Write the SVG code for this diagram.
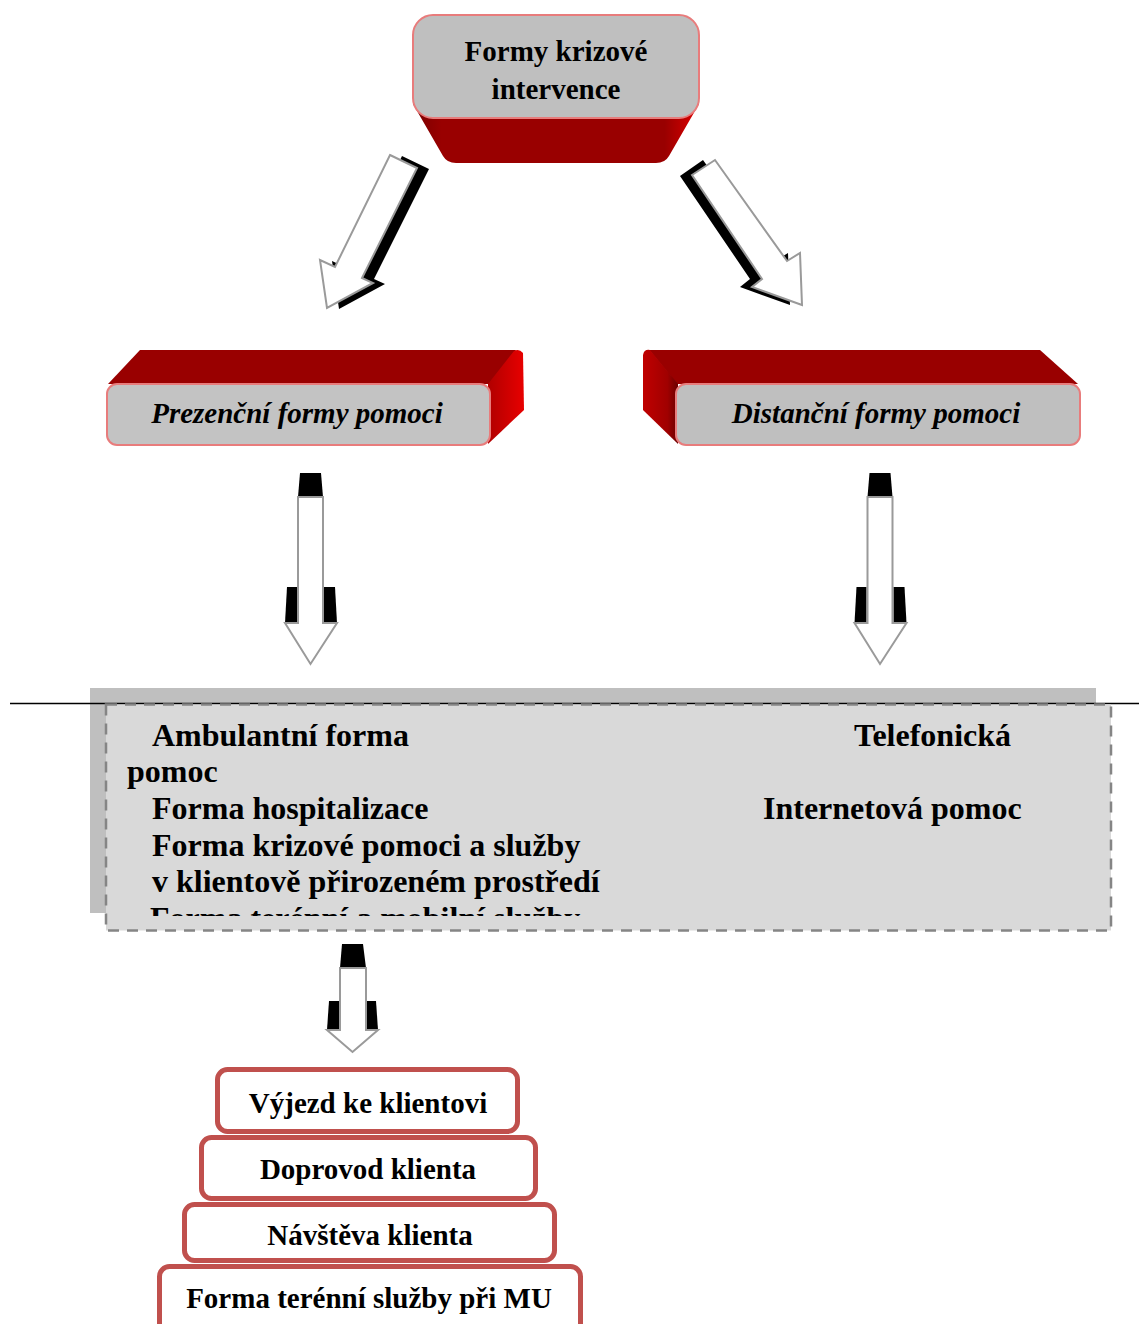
<svg xmlns="http://www.w3.org/2000/svg" width="1139" height="1324" viewBox="0 0 1139 1324">
<style>
text{font-family:"Liberation Serif","Times New Roman",serif;font-weight:bold;fill:#000}
.t29{font-size:29px}
.t32{font-size:32px}
.it{font-style:italic}
.face{fill:#bfbfbf;stroke:#e87c7c;stroke-width:2}
.wa{fill:#fff;stroke:#9a9a9a;stroke-width:2;stroke-linejoin:miter}
.sh{fill:#000}
.stack{fill:#fff;stroke:#c0504d;stroke-width:5}
</style>
<defs>
<linearGradient id="redH" x1="0" y1="0" x2="1" y2="0">
<stop offset="0" stop-color="#7a0000"/>
<stop offset="0.1" stop-color="#990000"/>
<stop offset="0.88" stop-color="#990000"/>
<stop offset="1" stop-color="#e00000"/>
</linearGradient>
<linearGradient id="redR" x1="0" y1="0" x2="1" y2="0">
<stop offset="0" stop-color="#b00000"/>
<stop offset="1" stop-color="#e80000"/>
</linearGradient>
<linearGradient id="redL" x1="0" y1="0" x2="1" y2="0">
<stop offset="0" stop-color="#c00000"/>
<stop offset="0.7" stop-color="#a00000"/>
<stop offset="1" stop-color="#6a0000"/>
</linearGradient>
<g id="downArrow">
<polygon class="sh" points="300,473 321,473 323,497 298,497"/>
<polygon class="sh" points="287,587 297,587 297,623 285,623"/>
<polygon class="sh" points="324,587 335,587 337,623 324,623"/>
<polygon class="wa" points="298,497 323,497 323,623 337,623 310.5,664 285,623 298,623"/>
</g>
<clipPath id="boxClip"><rect x="90" y="688" width="1030" height="228"/></clipPath>
</defs>

<g id="connectors">
<g id="arrow-left-diag">
<polygon class="sh" points="402,156 429,169 374,279 385,284 339,309 332,261 347,268"/>
<polygon class="wa" points="390,155 417,168 362,278 373,283 327,308 320,260 335,267"/>
</g>
<g id="arrow-right-diag">
<polygon class="sh" points="680,176 703,160 775,261 788,253 790,305 740,287 750,279"/>
<polygon class="wa" points="692,175 715,160 787,261 800,253 802,305 752,287 762,279"/>
</g>
<use id="arrow-down-left" href="#downArrow"/>
<use id="arrow-down-right" href="#downArrow" transform="translate(569.5,0)"/>
<g id="arrow-down-stack">
<polygon class="sh" points="342,944 363,944 366,968 340,968"/>
<polygon class="sh" points="329,1001 340,1001 340,1030 327,1030"/>
<polygon class="sh" points="366,1001 376,1001 378,1030 366,1030"/>
<polygon class="wa" points="340,968 366,968 366,1030 378,1030 352.5,1052 327,1030 340,1030"/>
</g>
</g>

<g id="node-top">
<path d="M413,104 L699,104 L669,156 Q665,163 656,163 L456,163 Q447,163 443,156 Z" fill="url(#redH)"/>
<rect class="face" x="413" y="15" width="286" height="103" rx="20"/>
<text class="t29" x="556" y="61" text-anchor="middle">Formy krizové</text>
<text class="t29" x="556" y="99" text-anchor="middle">intervence</text>
</g>

<g id="node-prezencni">
<polygon points="108,384 140,350 516,350 490,384" fill="#990000"/>
<path d="M488,384 L514,351 Q519,348 523,353 L524,410 L488,444 Z" fill="url(#redR)"/>
<rect class="face" x="107" y="384" width="383" height="61" rx="10" style="fill:#c3c3c3"/>
<text class="t29 it" x="297" y="423" text-anchor="middle">Prezenční formy pomoci</text>
</g>

<g id="node-distancni">
<polygon points="649,350 1040,350 1078,384 677,384" fill="#990000"/>
<path d="M643,355 Q644,349 650,350 L678,384 L678,444 L643,410 Z" fill="url(#redL)"/>
<rect class="face" x="676" y="384" width="404" height="61" rx="10"/>
<text class="t29 it" x="876" y="423" text-anchor="middle">Distanční formy pomoci</text>
</g>

<g id="node-forms">
<rect x="90" y="688" width="1006" height="225" fill="#bfbfbf"/>
<line x1="10" y1="703.5" x2="1139" y2="703.5" stroke="#000" stroke-width="1.5"/>
<rect x="106" y="704.5" width="1005" height="226" fill="#d9d9d9" stroke="#858585" stroke-width="2.5" stroke-dasharray="11 8"/>
<g clip-path="url(#boxClip)">
<text class="t32" x="152" y="746">Ambulantní forma</text>
<text class="t32" x="127" y="782">pomoc</text>
<text class="t32" x="152" y="819">Forma hospitalizace</text>
<text class="t32" x="152" y="856">Forma krizové pomoci a služby</text>
<text class="t32" x="152" y="892">v klientově přirozeném prostředí</text>
<text class="t32" x="150" y="929">Forma terénní a mobilní služby</text>
<text class="t32" x="854" y="746">Telefonická</text>
<text class="t32" x="763" y="819">Internetová pomoc</text>
</g>
</g>

<g id="node-vyjezd">
<rect class="stack" x="217.5" y="1069.5" width="300" height="62" rx="10"/>
<text class="t29" x="368" y="1113" text-anchor="middle">Výjezd ke klientovi</text>
</g>
<g id="node-doprovod">
<rect class="stack" x="201.5" y="1137.5" width="334" height="61" rx="10"/>
<text class="t29" x="368" y="1179" text-anchor="middle">Doprovod klienta</text>
</g>
<g id="node-navsteva">
<rect class="stack" x="184.5" y="1204.5" width="370" height="56" rx="10"/>
<text class="t29" x="370" y="1245" text-anchor="middle">Návštěva klienta</text>
</g>
<g id="node-terenni">
<rect class="stack" x="159.5" y="1266.5" width="421" height="72" rx="10"/>
<text class="t29" x="369" y="1308" text-anchor="middle">Forma terénní služby při MU</text>
</g>
</svg>
